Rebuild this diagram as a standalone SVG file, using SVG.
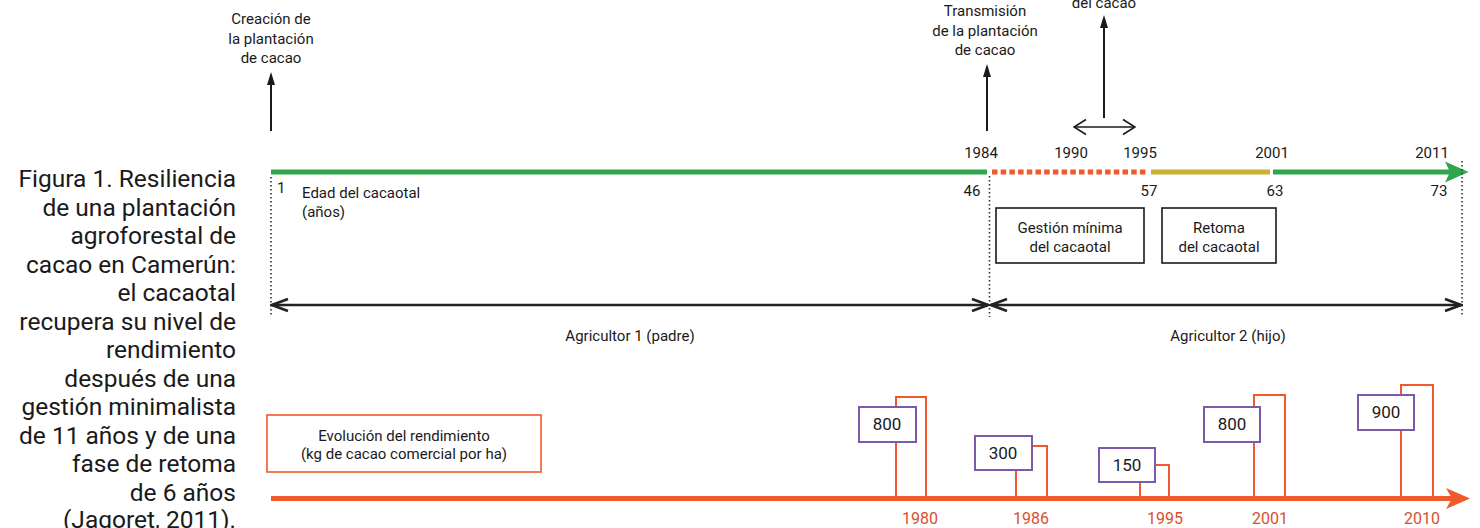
<svg xmlns="http://www.w3.org/2000/svg" width="1480" height="528" viewBox="0 0 1480 528">
<style>
text{font-family:Roboto,"Noto Sans",sans-serif;fill:#1a1a1a;font-size:15px}
.cap{font-size:24.5px;text-anchor:end}
.c{text-anchor:middle}
.yr{font-size:16px;fill:#d9502c;text-anchor:middle}
.val{font-size:17px;text-anchor:middle}
.dot{stroke:#333;stroke-width:1.6;stroke-dasharray:1.6 2.4;fill:none}
.arr{stroke:#1a1a1a;stroke-width:2;fill:none}
.span{stroke:#222;stroke-width:2.6;fill:none}
.bar{stroke:#f0592b;stroke-width:2;fill:none}
.vbox{stroke:#7e58a9;stroke-width:2;fill:#fff}
.box{stroke:#1a1a1a;stroke-width:1.6;fill:#fff}
</style>
<defs>
<marker id="tri" viewBox="0 0 13 8" refX="5" refY="4" markerWidth="13" markerHeight="8" orient="auto" markerUnits="userSpaceOnUse"><path d="M0,0 L13,4 L0,8 z" fill="#1a1a1a"/></marker>
<marker id="open" viewBox="-2 -2 20 16" refX="16" refY="6" markerWidth="20" markerHeight="16" orient="auto-start-reverse" markerUnits="userSpaceOnUse"><path d="M0,0 L16,6 L0,12" fill="none" stroke="#222" stroke-width="2.6"/></marker>
<marker id="openS" viewBox="-2 -2 15 19" refX="12" refY="7.5" markerWidth="15" markerHeight="19" orient="auto-start-reverse" markerUnits="userSpaceOnUse"><path d="M0,0 L12,7.5 L0,15" fill="none" stroke="#1a1a1a" stroke-width="1.6"/></marker>
</defs>
<rect width="1480" height="528" fill="#fff"/>

<g id="caption">
<text class="cap" x="236" y="187">Figura 1. Resiliencia</text>
<text class="cap" x="236" y="215.5">de una plantación</text>
<text class="cap" x="236" y="244">agroforestal de</text>
<text class="cap" x="236" y="272.5">cacao en Camerún:</text>
<text class="cap" x="236" y="301">el cacaotal</text>
<text class="cap" x="236" y="329.5">recupera su nivel de</text>
<text class="cap" x="236" y="358">rendimiento</text>
<text class="cap" x="236" y="386.5">después de una</text>
<text class="cap" x="236" y="415">gestión minimalista</text>
<text class="cap" x="236" y="443.5">de 11 años y de una</text>
<text class="cap" x="236" y="472">fase de retoma</text>
<text class="cap" x="236" y="500.5">de 6 años</text>
<text class="cap" x="236" y="528">(Jagoret, 2011).</text>
</g>

<g id="event-creacion">
<text class="c" x="271" y="24">Creación de</text>
<text class="c" x="271" y="43.5">la plantación</text>
<text class="c" x="271" y="63">de cacao</text>
</g>
<g id="event-transmision">
<text class="c" x="985" y="16">Transmisión</text>
<text class="c" x="985" y="35.5">de la plantación</text>
<text class="c" x="985" y="55">de cacao</text>
</g>
<g id="event-precio">
<text class="c" x="1104" y="7.5">del cacao</text>
</g>

<g id="timeline">
<line x1="271" y1="172" x2="987" y2="172" stroke="#2ea64b" stroke-width="5"/>
<line x1="992" y1="172" x2="1148" y2="172" stroke="#f0592b" stroke-width="5" stroke-dasharray="5.5 3.2"/>
<line x1="1151" y1="172" x2="1270" y2="172" stroke="#c8b134" stroke-width="5"/>
<line x1="1273" y1="172" x2="1452" y2="172" stroke="#2ea64b" stroke-width="5"/>
<polygon points="1445,161.5 1468.5,172 1445,182.5 1450,172" fill="#2ea64b"/>
<text class="c" x="981" y="158">1984</text>
<text class="c" x="1071" y="158">1990</text>
<text class="c" x="1140" y="158">1995</text>
<text class="c" x="1272" y="158">2001</text>
<text class="c" x="1432" y="158">2011</text>
<text x="277" y="193">1</text>
<text class="c" x="972" y="196">46</text>
<text class="c" x="1149" y="196">57</text>
<text class="c" x="1275" y="196">63</text>
<text class="c" x="1439" y="196">73</text>
<text x="302" y="198">Edad del cacaotal</text>
<text x="302" y="217">(años)</text>
</g>

<g id="box-gestion">
<rect class="box" x="996" y="208" width="148" height="55"/>
<text class="c" x="1070" y="233">Gestión mínima</text>
<text class="c" x="1070" y="252">del cacaotal</text>
</g>
<g id="box-retoma">
<rect class="box" x="1162" y="208" width="114" height="55"/>
<text class="c" x="1219" y="233">Retoma</text>
<text class="c" x="1219" y="252">del cacaotal</text>
</g>

<g id="farmers">
<text class="c" x="630" y="341">Agricultor 1 (padre)</text>
<text class="c" x="1228" y="341">Agricultor 2 (hijo)</text>
</g>

<g id="connectors">
<line class="dot" x1="271" y1="177" x2="271" y2="317"/>
<line class="dot" x1="989.5" y1="176" x2="989.5" y2="317"/>
<line class="dot" x1="1462" y1="161" x2="1462" y2="317"/>
<line class="span" x1="272" y1="305" x2="988" y2="305" marker-start="url(#open)" marker-end="url(#open)"/>
<line class="span" x1="991" y1="305" x2="1461" y2="305" marker-start="url(#open)" marker-end="url(#open)"/>
<line class="arr" x1="271" y1="131" x2="271" y2="80" marker-end="url(#tri)"/>
<line class="arr" x1="987" y1="131" x2="987" y2="72" marker-end="url(#tri)"/>
<line class="arr" x1="1104" y1="118" x2="1104" y2="23" marker-end="url(#tri)"/>
<line x1="1074" y1="127" x2="1135" y2="127" stroke="#1a1a1a" stroke-width="1.6" marker-start="url(#openS)" marker-end="url(#openS)"/>
</g>

<g id="yield-legend">
<rect x="267" y="415" width="274" height="57" fill="#fff" stroke="#f0592b" stroke-width="1.6"/>
<text class="c" x="404" y="441">Evolución del rendimiento</text>
<text class="c" x="404" y="459">(kg de cacao comercial por ha)</text>
</g>

<g id="yield-axis">
<line x1="271" y1="498.5" x2="1452" y2="498.5" stroke="#f0592b" stroke-width="5"/>
<polygon points="1446,488 1470,498.5 1446,509 1452,498.5" fill="#f0592b"/>
</g>

<g id="bar-1980">
<polyline class="bar" points="896,497 896,397 926,397 926,497"/>
<rect class="vbox" x="859" y="407" width="57" height="35"/>
<text class="val" x="887" y="430">800</text>
<text class="yr" x="920" y="524">1980</text>
</g>
<g id="bar-1986">
<polyline class="bar" points="1016,497 1016,446 1047,446 1047,497"/>
<rect class="vbox" x="975" y="436" width="57" height="34"/>
<text class="val" x="1003" y="459">300</text>
<text class="yr" x="1031" y="524">1986</text>
</g>
<g id="bar-1995">
<polyline class="bar" points="1140,497 1140,465 1169,465 1169,497"/>
<rect class="vbox" x="1099" y="448" width="56" height="34"/>
<text class="val" x="1127" y="471">150</text>
<text class="yr" x="1165" y="524">1995</text>
</g>
<g id="bar-2001">
<polyline class="bar" points="1254,497 1254,395 1285,395 1285,497"/>
<rect class="vbox" x="1204" y="407" width="56" height="35"/>
<text class="val" x="1232" y="430">800</text>
<text class="yr" x="1270" y="524">2001</text>
</g>
<g id="bar-2010">
<polyline class="bar" points="1401,497 1401,385 1433,385 1433,497"/>
<rect class="vbox" x="1358" y="395" width="56" height="35"/>
<text class="val" x="1386" y="418">900</text>
<text class="yr" x="1422" y="524">2010</text>
</g>
</svg>
